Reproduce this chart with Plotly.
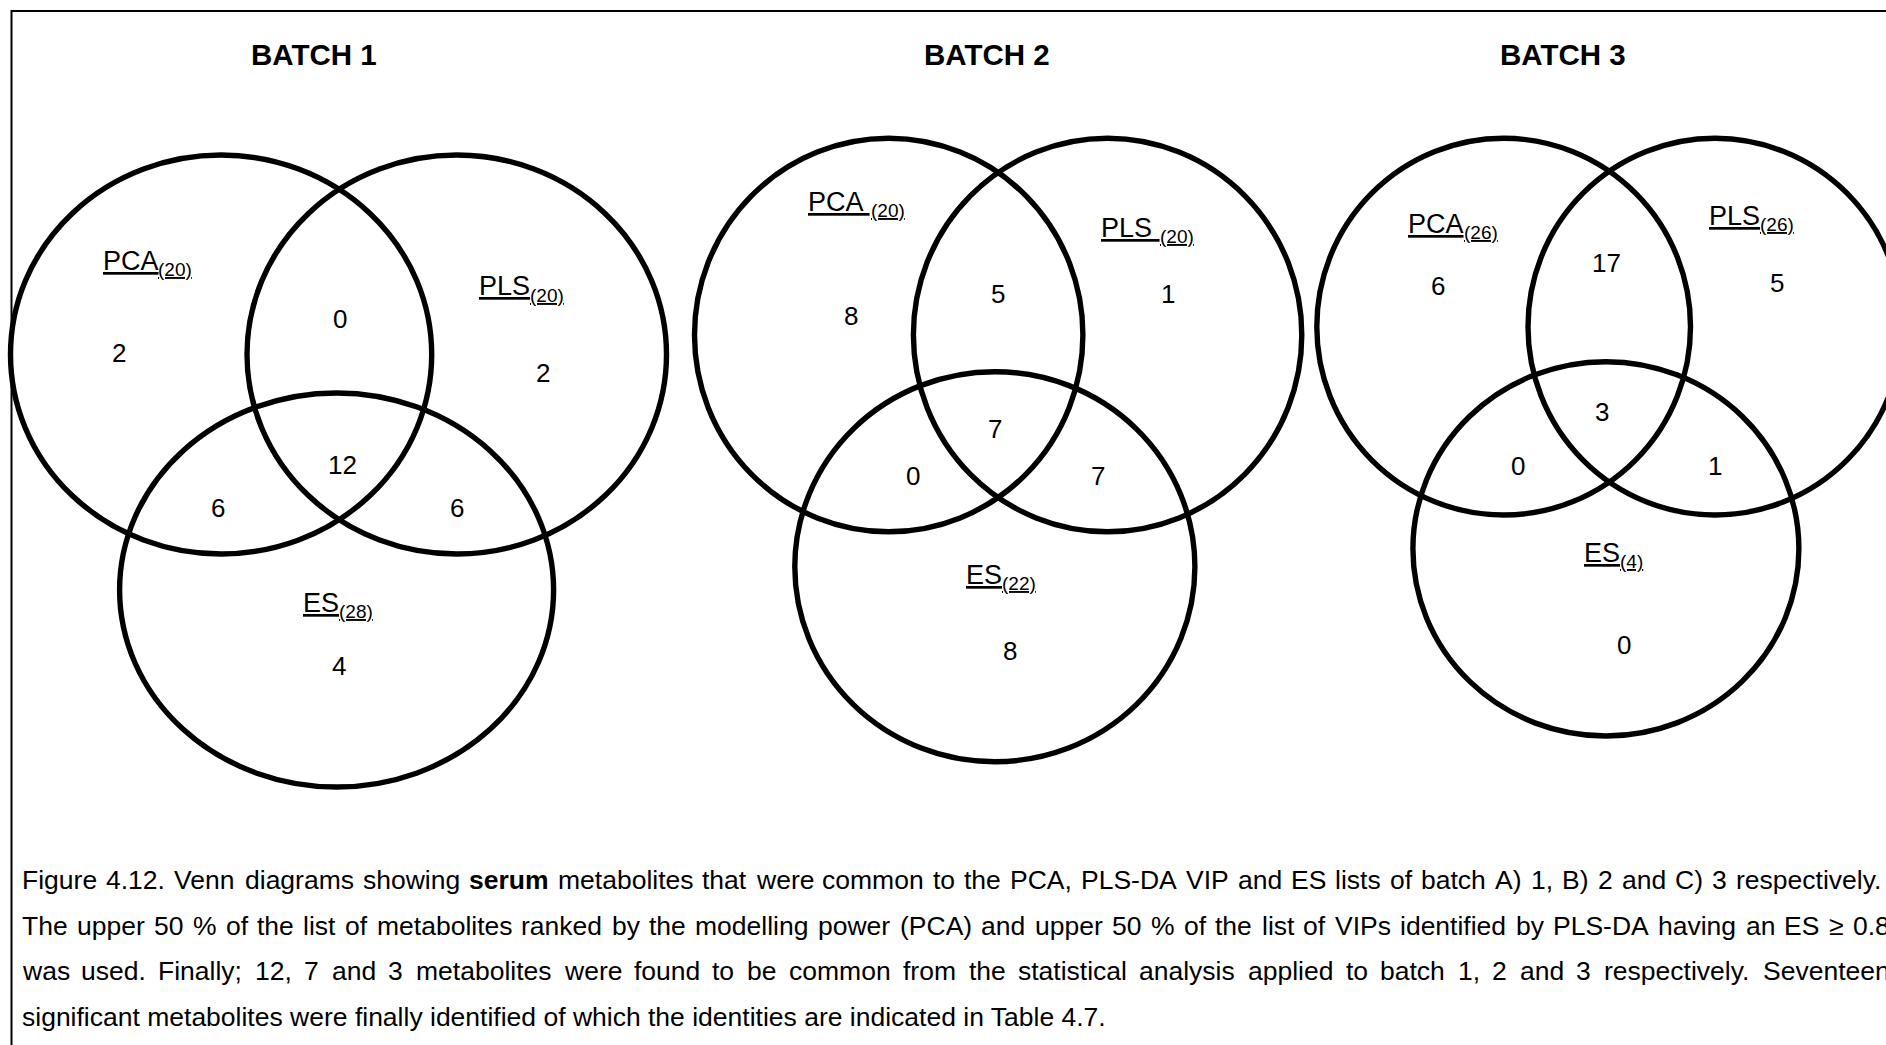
import plotly.graph_objects as go

# ---------------- data ----------------
batch_titles = ["BATCH 1", "BATCH 2", "BATCH 3"]
set_names = ["PCA", "PLS", "ES"]
pca_sizes = [20, 20, 26]
pls_sizes = [20, 20, 26]
es_sizes = [28, 22, 4]
region_names = ["PCA only", "PLS only", "ES only", "PCA & PLS", "PCA & ES", "PLS & ES", "PCA & PLS & ES"]
batch1_counts = [2, 2, 4, 0, 6, 6, 12]
batch2_counts = [8, 1, 8, 5, 0, 7, 7]
batch3_counts = [6, 5, 0, 17, 0, 1, 3]
caption_lines = [
    "Figure 4.12. Venn diagrams showing <b>serum</b> metabolites that were common to the PCA, PLS-DA VIP and ES lists of batch A) 1, B) 2 and C) 3 respectively.",
    "The upper 50 % of the list of metabolites ranked by the modelling power (PCA) and upper 50 % of the list of VIPs identified by PLS-DA having an ES \u2265 0.8",
    "was used. Finally; 12, 7 and 3 metabolites were found to be common from the statistical analysis applied to batch 1, 2 and 3 respectively. Seventeen",
    "significant metabolites were finally identified of which the identities are indicated in Table 4.7.",
]

# ---------------- layout / style (pixel space) ----------------
W, H = 1886, 1045
FONT = "Liberation Sans, Arial, Helvetica, sans-serif"
INK = "black"
label_gap = ["", " ", ""]
circle_boxes = [
    {"PCA": (10.5, 155, 431.7, 554), "PLS": (247, 155, 666.5, 554), "ES": (119.6, 393, 553.6, 787)},
    {"PCA": (694.5, 138.3, 1082.9, 531.7), "PLS": (913.4, 138.3, 1301.8, 531.7), "ES": (794.8, 371.7, 1194.9, 761.7)},
    {"PCA": (1316.8, 138.3, 1690.5, 515), "PLS": (1528, 138.3, 1902, 515), "ES": (1412.9, 361.7, 1798.9, 736)},
]
label_pos = [
    {"PCA": (102.5, 260.5), "PLS": (479, 286), "ES": (303, 602.5)},
    {"PCA": (808, 201.5), "PLS": (1101, 227.5), "ES": (966, 574.5)},
    {"PCA": (1408, 223.5), "PLS": (1709, 215.5), "ES": (1584, 552.5)},
]
number_pos = [
    [(119.4, 353), (542.6, 373), (339.3, 666), (340.4, 319), (217.6, 507.6), (456.5, 507.6), (342.6, 465)],
    [(851, 316), (1168, 293.5), (1010, 650.8), (997.5, 293.5), (912.8, 475.5), (1097.6, 475.5), (994.6, 429)],
    [(1438, 286), (1776.5, 283.3), (1623.8, 644.5), (1606, 263), (1517.7, 466), (1715, 466), (1602.3, 412)],
]
title_pos = [(313.5, 54.5), (986.8, 54.5), (1563, 54.5)]
LABEL_SIZE = 27
SUB_SIZE = 19
SUB_DY = 9
caption_left = 21.5
caption_right = [1883, 1890, 1890, None]
caption_y = [880, 925.5, 971, 1017]
CAP_SIZE = 26.5
CIRCLE_W = 5.4

# Arial / Liberation Sans advance widths (per 1000 em)
REG = {' ': 278, '%': 889, '(': 333, ')': 333, ',': 278, '-': 333, '.': 278, ';': 278, '\u2265': 549,
       'A': 667, 'B': 667, 'C': 722, 'D': 722, 'E': 667, 'F': 611, 'G': 778, 'H': 722, 'I': 278, 'J': 500,
       'K': 667, 'L': 556, 'M': 833, 'N': 722, 'O': 778, 'P': 667, 'Q': 778, 'R': 722, 'S': 667, 'T': 611,
       'U': 722, 'V': 667, 'W': 944, 'X': 667, 'Y': 667, 'Z': 611,
       'a': 556, 'b': 556, 'c': 500, 'd': 556, 'e': 556, 'f': 278, 'g': 556, 'h': 556, 'i': 222, 'j': 222,
       'k': 500, 'l': 222, 'm': 833, 'n': 556, 'o': 556, 'p': 556, 'q': 556, 'r': 333, 's': 500, 't': 278,
       'u': 556, 'v': 500, 'w': 722, 'x': 500, 'y': 500, 'z': 500}
for d in "0123456789":
    REG[d] = 556
BOLD = {'a': 556, 'b': 611, 'c': 556, 'd': 611, 'e': 556, 'f': 333, 'g': 611, 'h': 611, 'i': 278, 'j': 278,
        'k': 556, 'l': 278, 'm': 889, 'n': 611, 'o': 611, 'p': 611, 'q': 611, 'r': 389, 's': 556, 't': 333,
        'u': 611, 'v': 556, 'w': 778, 'x': 556, 'y': 556, 'z': 500}


def word_width(word, size):
    bold = word.startswith("<b>")
    plain = word.replace("<b>", "").replace("</b>", "")
    table = BOLD if bold else REG
    return sum(table.get(c, REG.get(c, 556)) for c in plain) * size / 1000.0


fig = go.Figure()
# invisible anchor trace so the axes exist
fig.add_trace(go.Scatter(x=[0, W], y=[0, H], mode="markers", marker=dict(opacity=0), hoverinfo="skip",
                         showlegend=False))

shapes = []
# outer frame (extends beyond the cropped picture at right and bottom)
shapes.append(dict(type="rect", xref="x", yref="y", x0=11.5, y0=11, x1=W + 20, y1=H + 20,
                   line=dict(color=INK, width=2), fillcolor="rgba(0,0,0,0)", layer="above"))

annotations = []
all_counts = [batch1_counts, batch2_counts, batch3_counts]
set_sizes = {"PCA": pca_sizes, "PLS": pls_sizes, "ES": es_sizes}

for b, title in enumerate(batch_titles):
    tx, ty = title_pos[b]
    annotations.append(dict(x=tx, y=ty, xref="x", yref="y", text="<b>" + title + "</b>", showarrow=False,
                            xanchor="center", yanchor="middle", font=dict(family=FONT, size=29.5, color=INK),
                            borderpad=0, borderwidth=0))
    for s in set_names:
        x0, y0, x1, y1 = circle_boxes[b][s]
        shapes.append(dict(type="circle", xref="x", yref="y", x0=x0, y0=y0, x1=x1, y1=y1,
                           line=dict(color=INK, width=CIRCLE_W), fillcolor="rgba(0,0,0,0)", layer="above"))
        lx, ly = label_pos[b][s]
        gap = label_gap[b] if s != "ES" else ""
        main_txt = s + gap
        annotations.append(dict(x=lx, y=ly, xref="x", yref="y", text=main_txt, showarrow=False,
                                xanchor="left", yanchor="middle",
                                font=dict(family=FONT, size=LABEL_SIZE, color=INK, lineposition="under"),
                                borderpad=0, borderwidth=0))
        sub_x = lx + word_width(main_txt, LABEL_SIZE)
        annotations.append(dict(x=sub_x, y=ly + SUB_DY, xref="x", yref="y",
                                text="(" + str(set_sizes[s][b]) + ")", showarrow=False,
                                xanchor="left", yanchor="middle",
                                font=dict(family=FONT, size=SUB_SIZE, color=INK, lineposition="under"),
                                borderpad=0, borderwidth=0))
    for r, cnt in enumerate(all_counts[b]):
        nx, ny = number_pos[b][r]
        annotations.append(dict(x=nx, y=ny, xref="x", yref="y", text=str(cnt), showarrow=False,
                                xanchor="center", yanchor="middle", font=dict(family=FONT, size=26, color=INK),
                                borderpad=0, borderwidth=0, hovertext=region_names[r]))

# caption, justified like the source document
space_w = REG[' '] * CAP_SIZE / 1000.0
for i, line in enumerate(caption_lines):
    y = caption_y[i]
    right = caption_right[i]
    if right is None:
        annotations.append(dict(x=caption_left, y=y, xref="x", yref="y", text=line, showarrow=False,
                                xanchor="left", yanchor="middle", font=dict(family=FONT, size=CAP_SIZE, color=INK),
                                borderpad=0, borderwidth=0))
        continue
    words = line.split(" ")
    widths = [word_width(w, CAP_SIZE) for w in words]
    gaps = len(words) - 1
    extra = (right - caption_left - sum(widths) - gaps * space_w) / gaps
    x = caption_left
    for w, ww in zip(words, widths):
        annotations.append(dict(x=x, y=y, xref="x", yref="y", text=w, showarrow=False,
                                xanchor="left", yanchor="middle", font=dict(family=FONT, size=CAP_SIZE, color=INK),
                                borderpad=0, borderwidth=0))
        x += ww + space_w + extra

fig.update_layout(
    width=W, height=H, autosize=False,
    margin=dict(l=0, r=0, t=0, b=0, pad=0),
    paper_bgcolor="white", plot_bgcolor="white",
    xaxis=dict(range=[0, W], visible=False, fixedrange=True),
    yaxis=dict(range=[H, 0], visible=False, fixedrange=True),
    shapes=shapes, annotations=annotations, showlegend=False,
)

fig.write_html("out.html", config={"displayModeBar": False, "staticPlot": True},
               post_script="document.body.style.margin='0';document.body.style.overflow='hidden';")
